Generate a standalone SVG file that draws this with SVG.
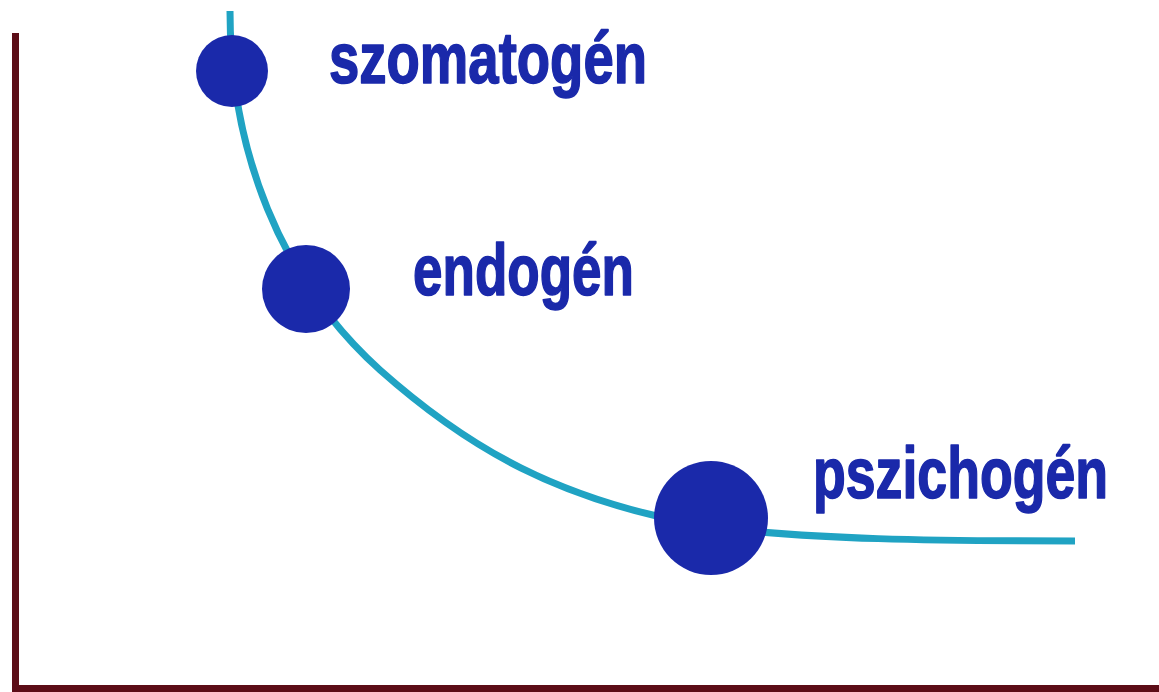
<svg xmlns="http://www.w3.org/2000/svg" width="1159" height="692" viewBox="0 0 1159 692">
  <style>
    .axis { fill: #5c0d17; }
    .curve { fill: none; stroke: #20a3c3; stroke-width: 7; }
    .dot { fill: #1a29aa; }
    .label { font-family: "Liberation Sans", Arial, sans-serif; font-weight: bold; font-size: 72px; fill: #1a29aa; stroke: #1a29aa; stroke-width: 1.6; stroke-linejoin: round; }
  </style>
  <rect width="1159" height="692" fill="#ffffff"/>

  <!-- axes -->
  <g id="axes">
    <rect class="axis" x="12" y="33" width="7" height="659"/>
    <rect class="axis" x="12" y="685" width="1147" height="7"/>
  </g>

  <!-- decay curve -->
  <g id="connectors">
    <path class="curve" d="M230,11 C230,150 280,280 380,370 C470,450 560,500 700,525 C800,540 950,541 1075,541"/>
  </g>

  <g id="node-szomatogen">
    <circle class="dot" cx="232" cy="71" r="36"/>
    <text class="label" x="329" y="83" textLength="318" lengthAdjust="spacingAndGlyphs">szomatogén</text>
  </g>

  <g id="node-endogen">
    <circle class="dot" cx="306" cy="289" r="44"/>
    <text class="label" x="413" y="295" textLength="221" lengthAdjust="spacingAndGlyphs">endogén</text>
  </g>

  <g id="node-pszichogen">
    <circle class="dot" cx="711" cy="518" r="57"/>
    <text class="label" x="813" y="498" textLength="295" lengthAdjust="spacingAndGlyphs">pszichogén</text>
  </g>
</svg>
